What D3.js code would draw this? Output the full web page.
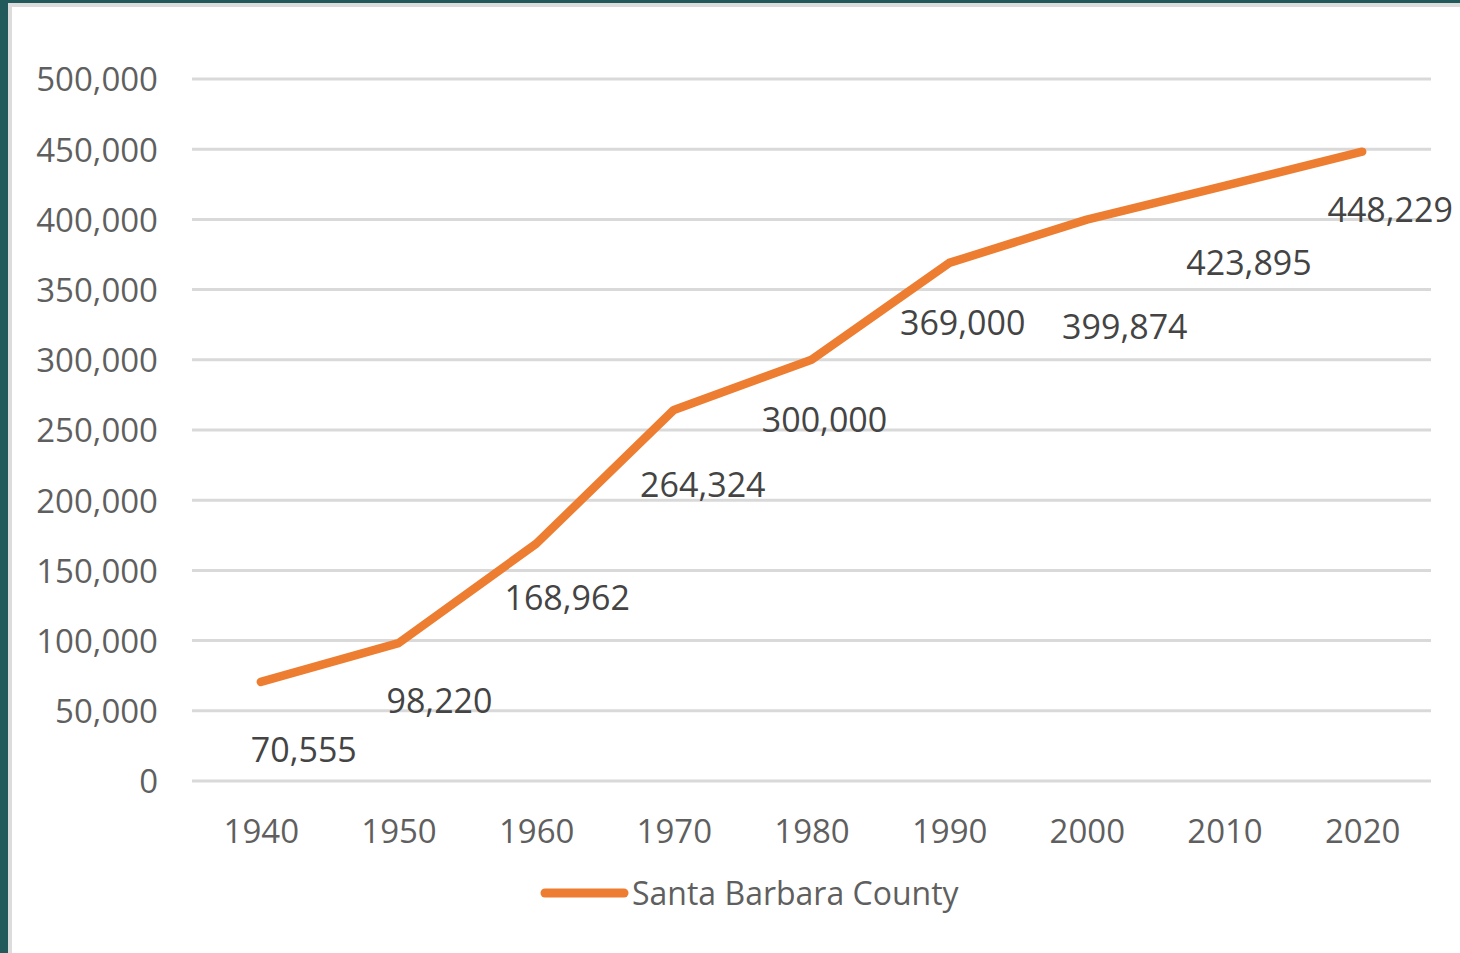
<!DOCTYPE html>
<html>
<head>
<meta charset="utf-8">
<script src="https://cdn.jsdelivr.net/npm/d3@7"></script>
<style>
  html, body { margin: 0; padding: 0; background: #ffffff; }
  svg text { font-family: "Open Sans", "Liberation Sans", sans-serif; }
</style>
</head>
<body>
<div id="container"></div>
<script>
/* DATA */
const years = ["1940", "1950", "1960", "1970", "1980", "1990", "2000", "2010", "2020"];
const population = [70555, 98220, 168962, 264324, 300000, 369000, 399874, 423895, 448229];
const yTicks = [0, 50000, 100000, 150000, 200000, 250000, 300000, 350000, 400000, 450000, 500000];
const seriesName = "Santa Barbara County";

// label nudges (px), the original has them hand placed
const labelDx = [43, 41, 31, 29, 13, 13.5, 38, 24.5, 28];
const labelDy = [68, 58, 54, 75, 60, 60, 107, 77, 58];

/* CONSTANTS */
const width = 1460,
  height = 953,
  margin = { top: 79, bottom: 172, left: 192, right: 29 };
const orange = "#ED7D31";

const svg = d3.select("#container")
  .append("svg")
  .attr("width", width)
  .attr("height", height);

// frame: dark teal edge with a light grey inner line
svg.append("rect").attr("x", 0).attr("y", 0).attr("width", width).attr("height", height).attr("fill", "#ffffff");
svg.append("rect").attr("x", 0).attr("y", 0).attr("width", width).attr("height", 7).attr("fill", "#dcdcdc");
svg.append("rect").attr("x", 0).attr("y", 0).attr("width", 12).attr("height", height).attr("fill", "#dcdcdc");
svg.append("rect").attr("x", 0).attr("y", 0).attr("width", width).attr("height", 3).attr("fill", "#225a5c");
svg.append("rect").attr("x", 0).attr("y", 0).attr("width", 8).attr("height", height).attr("fill", "#225a5c");

// SCALES
const xScale = d3.scalePoint()
  .domain(years)
  .range([margin.left, width - margin.right])
  .padding(0.5);

const yScale = d3.scaleLinear()
  .domain([0, 500000])
  .range([height - margin.bottom, margin.top]);

// GRIDLINES
svg.append("g")
  .selectAll("line")
  .data(yTicks)
  .join("line")
  .attr("x1", margin.left)
  .attr("x2", width - margin.right)
  .attr("y1", d => yScale(d))
  .attr("y2", d => yScale(d))
  .attr("stroke", "#d9d9d9")
  .attr("stroke-width", 3);

// AXES
const yAxis = svg.append("g")
  .attr("transform", `translate(${margin.left},0)`)
  .call(d3.axisLeft(yScale).tickValues(yTicks).tickSize(0).tickPadding(34).tickFormat(d3.format(",")));
yAxis.select(".domain").remove();
yAxis.selectAll("text")
  .attr("font-size", 33)
  .attr("fill", "#5f5f5f")
  .attr("dy", "0.36em");

const xAxis = svg.append("g")
  .attr("transform", `translate(0,${yScale(0)})`)
  .call(d3.axisBottom(xScale).tickSize(0));
xAxis.select(".domain").remove();
xAxis.selectAll("text")
  .attr("font-size", 33)
  .attr("fill", "#5f5f5f")
  .attr("y", 50)
  .attr("dy", "0.36em");

// LINE
const lineGen = d3.line()
  .x((d, i) => xScale(years[i]))
  .y(d => yScale(d));

svg.append("path")
  .datum(population)
  .attr("fill", "none")
  .attr("stroke", orange)
  .attr("stroke-width", 8.5)
  .attr("stroke-linecap", "round")
  .attr("stroke-linejoin", "round")
  .attr("d", lineGen);

// DATA LABELS
svg.append("g")
  .selectAll("text")
  .data(population)
  .join("text")
  .attr("x", (d, i) => xScale(years[i]) + labelDx[i])
  .attr("y", (d, i) => yScale(d) + labelDy[i])
  .attr("dy", "0.36em")
  .attr("text-anchor", "middle")
  .attr("font-size", 34)
  .attr("fill", "#444444")
  .text(d => d3.format(",")(d));

// LEGEND
const legend = svg.append("g").attr("transform", "translate(545,893)");
legend.append("line")
  .attr("x1", 0).attr("x2", 79)
  .attr("y1", 0).attr("y2", 0)
  .attr("stroke", orange)
  .attr("stroke-width", 9)
  .attr("stroke-linecap", "round");
legend.append("text")
  .attr("x", 87)
  .attr("y", 0)
  .attr("dy", "0.36em")
  .attr("font-size", 32)
  .attr("fill", "#5f5f5f")
  .text(seriesName);
</script>
</body>
</html>
